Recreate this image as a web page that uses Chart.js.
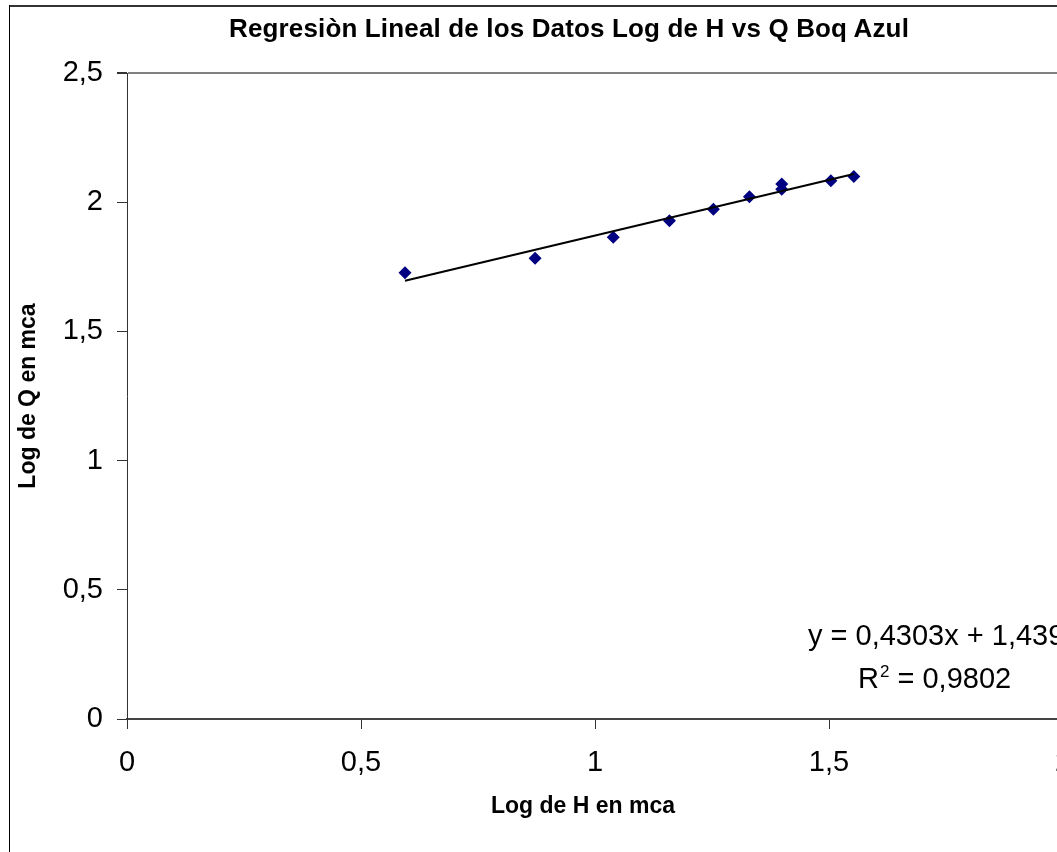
<!DOCTYPE html>
<html><head><meta charset="utf-8">
<script src="https://cdn.jsdelivr.net/npm/chart.js@4/dist/chart.umd.min.js"></script>
<style>
html,body{margin:0;padding:0;overflow:hidden;background:#fff;width:1057px;height:852px;}
#wrap{position:absolute;left:0;top:0;width:1138px;height:900px;}
#title{position:absolute;left:0;top:13px;width:1138px;text-align:center;font:bold 26px "Liberation Sans",Arial,sans-serif;letter-spacing:0.15px;line-height:30px;color:#000;white-space:nowrap;}
#xtitle{position:absolute;left:283px;top:790px;width:600px;text-align:center;font:bold 23px "Liberation Sans",Arial,sans-serif;line-height:30px;color:#000;white-space:nowrap;}
canvas{position:absolute;left:0;top:0;}
</style></head><body>
<div id="wrap"><canvas id="c" width="1138" height="900" style="width:1138px;height:900px"></canvas><div id="title"></div><div id="xtitle"></div></div>
<script>
// Data
const logH = [0.594, 0.872, 1.039, 1.159, 1.253, 1.330, 1.399, 1.399, 1.504, 1.553];
const logQ = [1.727, 1.783, 1.864, 1.928, 1.973, 2.021, 2.070, 2.050, 2.083, 2.099];
const trendX = [0.594, 1.553];
const trendY = [1.696, 2.109];
const xTicks = [0, 0.5, 1, 1.5, 2];
const yTicks = [0, 0.5, 1, 1.5, 2, 2.5];
const chartTitle = 'Regresiòn Lineal de los Datos Log de H vs Q Boq Azul';
const xTitle = 'Log de H en mca';
const yTitle = 'Log de Q en mca';
const eqLine = 'y = 0,4303x + 1,4393';
const r2Value = ' = 0,9802';

document.getElementById('title').textContent = chartTitle;
document.getElementById('xtitle').textContent = xTitle;

const FONT = '"Liberation Sans", Arial, sans-serif';
const fmt = v => String(v).replace('.', ',');

const deco = {
  id: 'deco',
  beforeDraw(chart) {
    const c = chart.ctx;
    c.save();
    c.fillStyle = '#fff';
    c.fillRect(0, 0, chart.width, chart.height);
    c.fillStyle = '#333';
    c.fillRect(9, 5, chart.width, 2);
    c.fillStyle = '#000';
    c.fillRect(9, 5, 1, chart.height);
    c.restore();
  },
  afterDraw(chart) {
    const c = chart.ctx;
    c.save();
    c.fillStyle = '#000';
    c.textBaseline = 'middle';
    c.textAlign = 'left';
    c.font = '29px ' + FONT;
    c.fillText(eqLine, 808, 637);
    let x = 858;
    c.fillText('R', x, 680);
    x += c.measureText('R').width + 1;
    c.font = '17px ' + FONT;
    c.fillText('2', x, 672);
    x += c.measureText('2').width;
    c.font = '29px ' + FONT;
    c.fillText(r2Value, x, 680);
    c.restore();
  }
};

new Chart(document.getElementById('c'), {
  type: 'scatter',
  data: {
    datasets: [
      {
        data: trendX.map((v, i) => ({x: v, y: trendY[i]})),
        showLine: true,
        borderColor: '#000',
        borderWidth: 2,
        pointRadius: 0,
        fill: false
      },
      {
        data: logH.map((v, i) => ({x: v, y: logQ[i]})),
        pointStyle: 'rectRot',
        pointRadius: 6.5,
        backgroundColor: '#000080',
        borderColor: '#000080',
        borderWidth: 0,
        showLine: false
      }
    ]
  },
  options: {
    responsive: false,
    devicePixelRatio: 1,
    animation: false,
    layout: {padding: {top: 73, right: 75, left: 0, bottom: 0}},
    plugins: {legend: {display: false}, tooltip: {enabled: false}, title: {display: false}},
    scales: {
      x: {
        type: 'linear', min: 0, max: 2,
        afterBuildTicks: s => { s.ticks = xTicks.map(v => ({value: v})); },
        afterFit: s => { s.height = 181; },
        ticks: {callback: v => fmt(v), color: '#000', font: {family: FONT, size: 29}, padding: 17, maxRotation: 0, autoSkip: false},
        grid: {drawOnChartArea: false, tickLength: 10, tickColor: '#333', color: '#333'},
        border: {display: true, color: '#444', width: 2},
        title: {display: false}
      },
      y: {
        type: 'linear', min: 0, max: 2.5,
        afterBuildTicks: s => { s.ticks = yTicks.map(v => ({value: v})); },
        afterFit: s => { s.width = 127; },
        ticks: {callback: v => fmt(v), color: '#000', font: {family: FONT, size: 29}, padding: 14, autoSkip: false},
        grid: {
          drawOnChartArea: true, tickLength: 10, tickColor: '#333',
          color: ctx => (ctx.tick && ctx.tick.value === 2.5) ? '#808080' : 'rgba(0,0,0,0)',
          lineWidth: ctx => (ctx.tick && ctx.tick.value === 2.5) ? 2 : 1
        },
        border: {display: true, color: '#333', width: 1},
        title: {display: true, text: yTitle, color: '#000', font: {family: FONT, size: 23, weight: 'bold'}, padding: {top: 15, bottom: 0}}
      }
    }
  },
  plugins: [deco]
});
</script>
</body></html>
